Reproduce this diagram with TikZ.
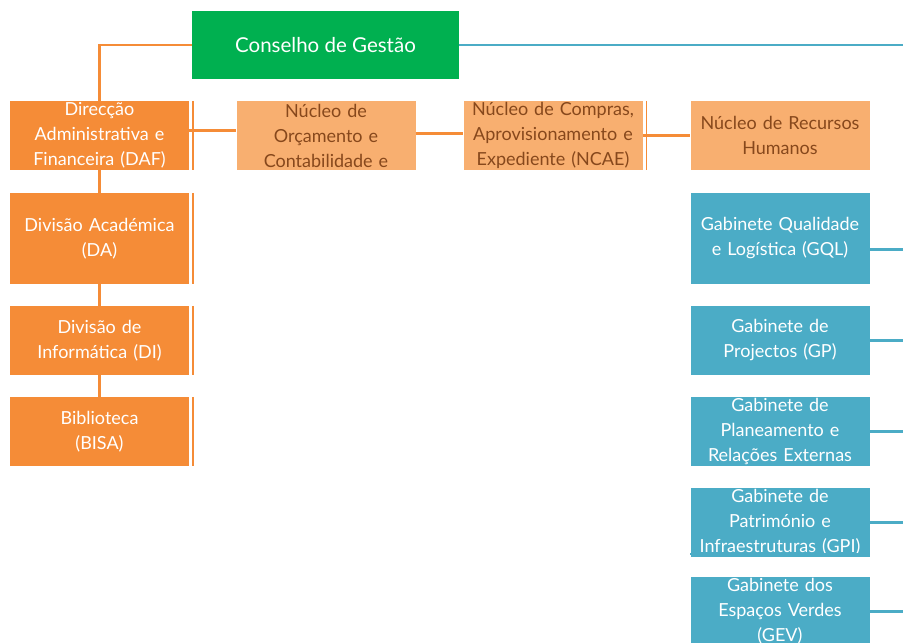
\documentclass[tikz,border=0pt]{standalone}
\usepackage{fontspec}
\setmainfont{Lato}
\usetikzlibrary{positioning, calc}
\definecolor{boardgreen}{RGB}{0,176,80}
\definecolor{darkorange}{RGB}{245,140,55}
\definecolor{paleorange}{RGB}{248,175,112}
\definecolor{gabblue}{RGB}{75,172,198}
\definecolor{nuctext}{RGB}{135,72,28}
\tikzset{
    % board at the top of the chart
    board/.style={fill=boardgreen, text=white, minimum width=267pt, minimum height=68pt,
                  inner sep=0pt, font=\fontsize{20.5}{24}\selectfont},
    % directions and divisions, dark orange boxes
    divbox/.style={fill=darkorange, text=white, minimum width=179pt, minimum height=69pt,
                   text width=176pt, align=center, inner sep=0pt, font=\fontsize{18}{25}\selectfont},
    % nuclei, pale orange boxes with brown text
    nucbox/.style={divbox, fill=paleorange, text=nuctext},
    % cabinets, blue boxes
    gabbox/.style={divbox, fill=gabblue},
    % connectors
    orgline/.style={draw=darkorange, line width=2.5pt},
    gabline/.style={draw=gabblue, line width=2.5pt},
    % thin line along the right side of some boxes
    sideline/.style={draw=darkorange, line width=1.5pt},
}

\begin{document}
\begin{tikzpicture}[x=1pt, y=-1pt]
    \useasboundingbox (0,0) rectangle (903,643);
    \clip (0,0) rectangle (903,643);
    \coordinate (rim) at (905,0);

    % ===== board =====
    \node[board] (cg) at (325.5, 45) {Conselho de Gestão};

    % ===== left column (orange) =====
    \node[divbox] (daf) at (99.5, 135.5) {Direcção\\Administrativa e\\Financeira (DAF)};
    \node[divbox, minimum height=91pt] (da) at (99.5, 238.5) {Divisão Académica\\(DA)};
    \node[divbox] (di)   at (99.5, 340.5) {Divisão de\\Informática (DI)};
    \node[divbox] (bisa) at (99.5, 431.5) {Biblioteca\\(BISA)};

    % ===== nuclei row =====
    \node[nucbox] (noc)  at (326, 135.5) {Núcleo de\\Orçamento e\\Contabilidade e};
    \node[nucbox] (ncae) at (553, 135.5) {Núcleo de Compras,\\Aprovisionamento e\\Expediente (NCAE)};
    \node[nucbox] (nrh)  at (780, 135.5) {Núcleo de Recursos\\Humanos};

    % ===== right column (blue) =====
    \node[gabbox, minimum height=91pt] (gql) at (780, 238.5) {Gabinete Qualidade\\e Logística (GQL)};
    \node[gabbox] (gp)   at (780, 340.5) {Gabinete de\\Projectos (GP)};
    \node[gabbox] (gpre) at (780, 431.5) {Gabinete de\\Planeamento e\\Relações Externas};
    \node[gabbox] (gpi)  at (780, 522.5) {Gabinete de\\Património e\\Infraestruturas (GPI)};
    \node[gabbox] (gev)  at (780, 611.5) {Gabinete dos\\Espaços Verdes\\(GEV)};

    % orange connectors
    \draw[orgline] (cg.west) -| (daf.north);
    \draw[orgline] (daf) -- (da) -- (di) -- (bisa);
    \draw[orgline] ([yshift=5pt]daf.east) -- ([yshift=5pt]noc.west);
    \draw[orgline] ([yshift=2pt]noc.east) -- ([yshift=2pt]ncae.west);
    \draw[orgline] (ncae.east) -- (nrh.west);

    % side lines
    \foreach \n in {daf, da, di, bisa, ncae}
        \draw[sideline] ([xshift=4pt]\n.north east) -- ([xshift=4pt]\n.south east);
    \draw[gabline, line width=1.5pt] ([yshift=3pt]gpi.south west) -- ([yshift=3pt]gpi.south east);

    % blue connectors to the right edge
    \draw[gabline] (cg.east) -- (cg.east -| rim);
    \draw[gabline] ([yshift=-11pt]gql.east) -- ([yshift=-11pt]gql.east -| rim);
    \foreach \n in {gp, gpre, gpi, gev}
        \draw[gabline] (\n.east) -- (\n.east -| rim);

\end{tikzpicture}
\end{document}
